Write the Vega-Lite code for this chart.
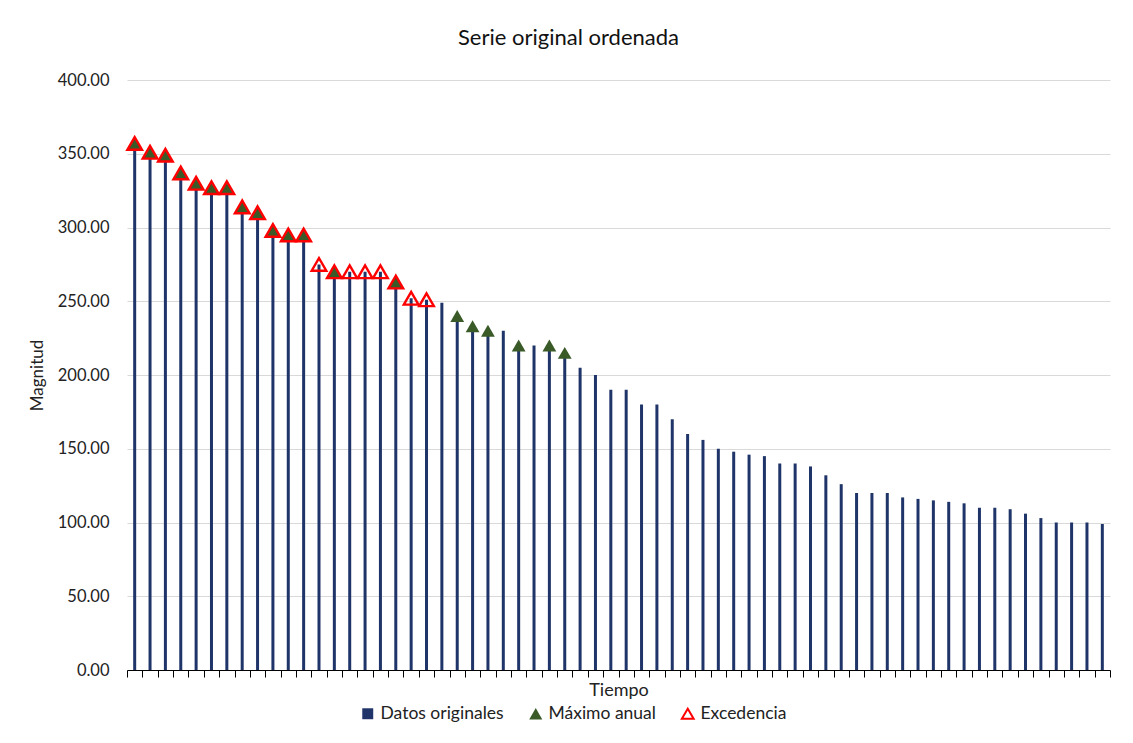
{
  "$schema": "https://vega.github.io/schema/vega-lite/v6.json",
  "width": 983,
  "height": 590,
  "autosize": "none",
  "padding": {"left": 127, "top": 80, "right": 23, "bottom": 73},
  "background": "white",
  "config": {
    "font": "Lato",
    "view": {"stroke": null},
    "axis": {"labelFont": "Lato", "titleFont": "Lato", "titleFontWeight": "normal", "labelColor": "#222", "titleColor": "#222"},
    "legend": {"labelFont": "Lato", "labelFontSize": 17.5, "labelColor": "#222", "padding": 0, "title": null}
  },
  "title": {
    "text": "Serie original ordenada",
    "fontSize": 22,
    "font": "Lato",
    "fontWeight": "normal",
    "color": "#111",
    "anchor": "middle",
    "dx": -50,
    "offset": 0,
    "baseline": "bottom"
  },
  "data": {
    "values": [
      {"i": 1, "v": 357, "max": true, "exc": true},
      {"i": 2, "v": 351, "max": true, "exc": true},
      {"i": 3, "v": 349, "max": true, "exc": true},
      {"i": 4, "v": 337, "max": true, "exc": true},
      {"i": 5, "v": 330, "max": true, "exc": true},
      {"i": 6, "v": 327, "max": true, "exc": true},
      {"i": 7, "v": 327, "max": true, "exc": true},
      {"i": 8, "v": 314, "max": true, "exc": true},
      {"i": 9, "v": 310, "max": true, "exc": true},
      {"i": 10, "v": 298, "max": true, "exc": true},
      {"i": 11, "v": 295, "max": true, "exc": true},
      {"i": 12, "v": 295, "max": true, "exc": true},
      {"i": 13, "v": 275, "max": false, "exc": true},
      {"i": 14, "v": 270, "max": true, "exc": true},
      {"i": 15, "v": 270, "max": false, "exc": true},
      {"i": 16, "v": 270, "max": false, "exc": true},
      {"i": 17, "v": 270, "max": false, "exc": true},
      {"i": 18, "v": 263, "max": true, "exc": true},
      {"i": 19, "v": 252, "max": false, "exc": true},
      {"i": 20, "v": 251, "max": false, "exc": true},
      {"i": 21, "v": 249, "max": false, "exc": false},
      {"i": 22, "v": 240, "max": true, "exc": false},
      {"i": 23, "v": 233, "max": true, "exc": false},
      {"i": 24, "v": 230, "max": true, "exc": false},
      {"i": 25, "v": 230, "max": false, "exc": false},
      {"i": 26, "v": 220, "max": true, "exc": false},
      {"i": 27, "v": 220, "max": false, "exc": false},
      {"i": 28, "v": 220, "max": true, "exc": false},
      {"i": 29, "v": 215, "max": true, "exc": false},
      {"i": 30, "v": 205, "max": false, "exc": false},
      {"i": 31, "v": 200, "max": false, "exc": false},
      {"i": 32, "v": 190, "max": false, "exc": false},
      {"i": 33, "v": 190, "max": false, "exc": false},
      {"i": 34, "v": 180, "max": false, "exc": false},
      {"i": 35, "v": 180, "max": false, "exc": false},
      {"i": 36, "v": 170, "max": false, "exc": false},
      {"i": 37, "v": 160, "max": false, "exc": false},
      {"i": 38, "v": 156, "max": false, "exc": false},
      {"i": 39, "v": 150, "max": false, "exc": false},
      {"i": 40, "v": 148, "max": false, "exc": false},
      {"i": 41, "v": 146, "max": false, "exc": false},
      {"i": 42, "v": 145, "max": false, "exc": false},
      {"i": 43, "v": 140, "max": false, "exc": false},
      {"i": 44, "v": 140, "max": false, "exc": false},
      {"i": 45, "v": 138, "max": false, "exc": false},
      {"i": 46, "v": 132, "max": false, "exc": false},
      {"i": 47, "v": 126, "max": false, "exc": false},
      {"i": 48, "v": 120, "max": false, "exc": false},
      {"i": 49, "v": 120, "max": false, "exc": false},
      {"i": 50, "v": 120, "max": false, "exc": false},
      {"i": 51, "v": 117, "max": false, "exc": false},
      {"i": 52, "v": 116, "max": false, "exc": false},
      {"i": 53, "v": 115, "max": false, "exc": false},
      {"i": 54, "v": 114, "max": false, "exc": false},
      {"i": 55, "v": 113, "max": false, "exc": false},
      {"i": 56, "v": 110, "max": false, "exc": false},
      {"i": 57, "v": 110, "max": false, "exc": false},
      {"i": 58, "v": 109, "max": false, "exc": false},
      {"i": 59, "v": 106, "max": false, "exc": false},
      {"i": 60, "v": 103, "max": false, "exc": false},
      {"i": 61, "v": 100, "max": false, "exc": false},
      {"i": 62, "v": 100, "max": false, "exc": false},
      {"i": 63, "v": 100, "max": false, "exc": false},
      {"i": 64, "v": 99, "max": false, "exc": false}
    ]
  },
  "encoding": {
    "x": {
      "field": "i",
      "type": "ordinal",
      "scale": {"paddingInner": 0, "paddingOuter": 0},
      "axis": {
        "title": "Tiempo",
        "titleFontSize": 18,
        "titlePadding": 4,
        "labels": false,
        "ticks": true,
        "tickBand": "extent",
        "tickSize": 7,
        "tickColor": "#000",
        "domainColor": "#000",
        "grid": false
      }
    },
    "y": {
      "field": "v",
      "type": "quantitative",
      "scale": {"domain": [0, 400]},
      "axis": {
        "title": "Magnitud",
        "titleFontSize": 17,
        "titleX": -90,
        "titleY": 295,
        "titleBaseline": "middle",
        "values": [0, 50, 100, 150, 200, 250, 300, 350, 400],
        "format": ".2f",
        "labelFontSize": 16.5,
        "labelPadding": 18,
        "ticks": false,
        "domain": false,
        "grid": true,
        "gridColor": "#d9d9d9",
        "gridWidth": 1
      }
    }
  },
  "layer": [
    {
      "mark": {"type": "bar", "size": 3},
      "encoding": {
        "color": {
          "datum": "Datos originales",
          "scale": {"range": ["#1f3468"]},
          "legend": {
            "orient": "none",
            "legendX": 232,
            "legendY": 625,
            "symbolType": "square",
            "symbolSize": 120,
            "symbolStrokeWidth": 0
          }
        }
      }
    },
    {
      "transform": [{"filter": "datum.max"}],
      "mark": {"type": "point", "shape": "triangle-up", "filled": true, "size": 190, "opacity": 1, "strokeWidth": 0},
      "encoding": {
        "fill": {
          "datum": "Máximo anual",
          "scale": {"range": ["#3a5a28"]},
          "legend": {
            "orient": "none",
            "legendX": 400,
            "legendY": 625,
            "symbolType": "triangle-up",
            "symbolSize": 170,
            "symbolStrokeWidth": 0,
            "symbolOpacity": 1
          }
        }
      }
    },
    {
      "transform": [{"filter": "datum.exc"}],
      "mark": {"type": "point", "shape": "triangle-up", "filled": false, "size": 215, "opacity": 1, "strokeWidth": 2.4},
      "encoding": {
        "stroke": {
          "datum": "Excedencia",
          "scale": {"range": ["#ff0000"]},
          "legend": {
            "orient": "none",
            "legendX": 552,
            "legendY": 625,
            "symbolType": "triangle-up",
            "symbolSize": 140,
            "symbolStrokeWidth": 2,
            "symbolFillColor": "transparent",
            "symbolOpacity": 1
          }
        }
      }
    }
  ]
}
